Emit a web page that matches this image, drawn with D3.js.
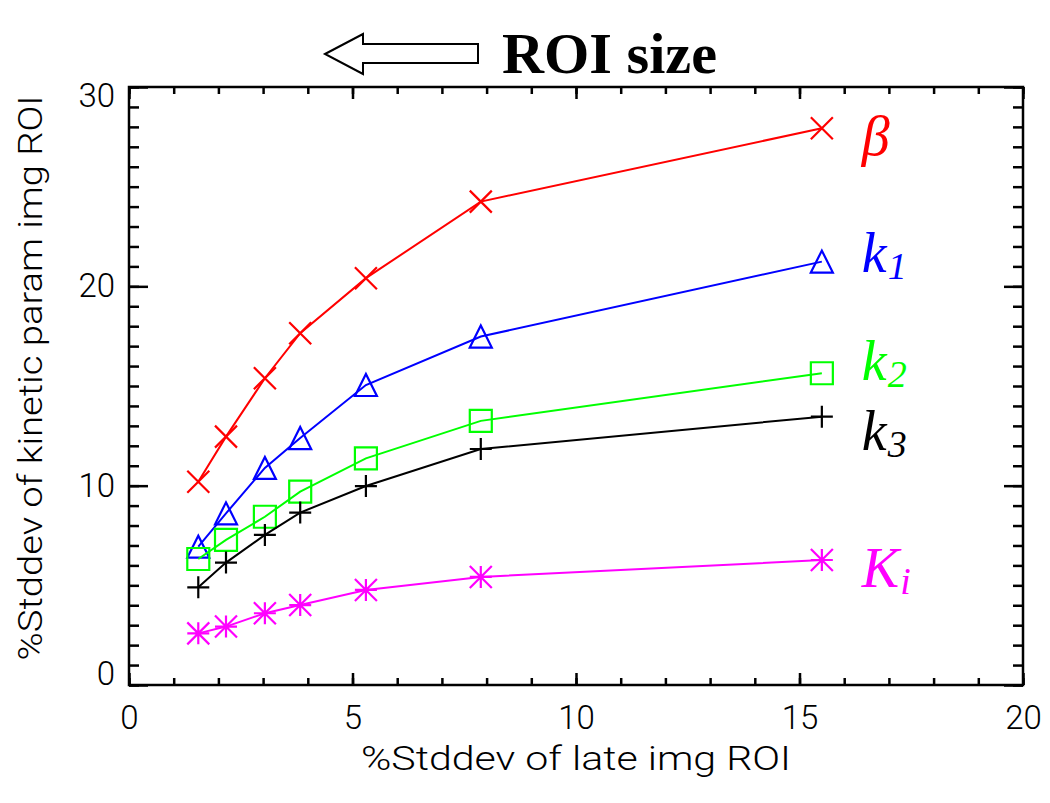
<!DOCTYPE html>
<html>
<head>
<meta charset="utf-8">
<script src="https://cdn.jsdelivr.net/npm/d3@7"></script>
<style>
  body { margin: 0; background: #fff; }
</style>
</head>
<body>
<div id="chart"></div>
<script>
// values
const xValues = [1.55, 2.17, 3.04, 3.83, 5.30, 7.87, 15.5];
const betaValues = [10.2, 12.46, 15.39, 17.65, 20.41, 24.25, 27.93];
const k1Values = [6.94, 8.61, 10.89, 12.39, 15.05, 17.48, 21.24];
const k2Values = [6.32, 7.28, 8.44, 9.70, 11.37, 13.25, 15.64];
const k3Values = [4.90, 6.14, 7.53, 8.65, 9.98, 11.84, 13.46];
const kiValues = [2.59, 2.93, 3.60, 4.01, 4.77, 5.42, 6.27];
const seriesValues = [betaValues, k1Values, k2Values, k3Values, kiValues];
const seriesLabels = [['β', ''], ['k', '1'], ['k', '2'], ['k', '3'], ['K', 'i']];
const xTicks = [0, 5, 10, 15, 20];
const yTicks = [0, 10, 20, 30];
const xMinorTicks = d3.range(0, 21, 1);
const yMinorTicks = d3.range(0, 31, 1);
const xAxisTitle = '%Stddev of late img ROI';
const yAxisTitle = '%Stddev of kinetic param img ROI';
const titleText = 'ROI size';

class Chart {
    constructor() {
        const attrs = {
            svgWidth: 1050,
            svgHeight: 803,
            marginTop: 87,
            marginLeft: 129,
            marginRight: 27,
            marginBottom: 118,
            container: '#chart',
            axisFont: 'Roboto, "DejaVu Sans", sans-serif',
            serifFont: '"Liberation Serif", "DejaVu Serif", serif',
            // per series: colour, symbol, label offset from last point
            styles: [
                { color: '#ff0000', symbol: 'x', labelDy: 27 },
                { color: '#0000ff', symbol: 'triangle', labelDy: 10 },
                { color: '#00ff00', symbol: 'square', labelDy: 7 },
                { color: '#000000', symbol: 'plus', labelDy: 33 },
                { color: '#ff00ff', symbol: 'asterisk', labelDy: 27 }
            ]
        };
        this.getState = () => attrs;
        this.setState = (d) => Object.assign(attrs, d);
        this.initializeEnterExitUpdatePattern();
    }

    render() {
        this.calculateProperties();
        this.drawSvgAndWrappers();
        this.drawAxes();
        this.drawSeries();
        this.drawTitle();
        return this;
    }

    calculateProperties() {
        const { svgWidth, svgHeight, marginTop, marginLeft, marginRight, marginBottom } = this.getState();
        const chartWidth = svgWidth - marginLeft - marginRight;
        const chartHeight = svgHeight - marginTop - marginBottom;
        const x = d3.scaleLinear().domain([0, 20]).range([0, chartWidth]);
        const y = d3.scaleLinear().domain([0, 30]).range([chartHeight, 0]);
        this.setState({ chartWidth, chartHeight, x, y });
    }

    drawSvgAndWrappers() {
        const { container, svgWidth, svgHeight, marginLeft, marginTop } = this.getState();
        const svg = d3.select(container)._add('svg.svg-container')
            .attr('width', svgWidth)
            .attr('height', svgHeight)
            .style('display', 'block')
            .style('background', '#fff');
        const chart = svg._add('g.chart')
            .attr('transform', `translate(${marginLeft},${marginTop})`);
        this.setState({ svg, chart });
    }

    drawAxes() {
        const { chart, x, y, chartWidth, chartHeight, axisFont } = this.getState();
        const majorX = 12, minorX = 7, majorY = 19, minorY = 10;

        const styleAxis = (g) => {
            g.select('.domain').remove();
            g.selectAll('.tick line').attr('stroke', '#000').attr('stroke-width', 2.5);
            g.selectAll('.tick text')
                .attr('fill', '#000')
                .style('font-family', axisFont)
                .style('font-weight', 300)
                .style('font-size', '33px');
        };

        // minor ticks on all four sides
        chart._add('g.x-minor-bottom').attr('transform', `translate(0,${chartHeight})`)
            .call(d3.axisBottom(x).tickValues(xMinorTicks).tickSize(-minorX).tickFormat(''))
            .call(styleAxis);
        chart._add('g.x-minor-top')
            .call(d3.axisTop(x).tickValues(xMinorTicks).tickSize(-minorX).tickFormat(''))
            .call(styleAxis);
        chart._add('g.y-minor-left')
            .call(d3.axisLeft(y).tickValues(yMinorTicks).tickSize(-minorY).tickFormat(''))
            .call(styleAxis);
        chart._add('g.y-minor-right').attr('transform', `translate(${chartWidth},0)`)
            .call(d3.axisRight(y).tickValues(yMinorTicks).tickSize(-minorY).tickFormat(''))
            .call(styleAxis);

        // major ticks
        chart._add('g.x-axis').attr('transform', `translate(0,${chartHeight})`)
            .call(d3.axisBottom(x).tickValues(xTicks).tickSize(-majorX).tickPadding(21).tickFormat(d3.format('d')))
            .call(styleAxis);
        chart._add('g.x-axis-top')
            .call(d3.axisTop(x).tickValues(xTicks).tickSize(-majorX).tickFormat(''))
            .call(styleAxis);
        chart._add('g.y-axis')
            .call(d3.axisLeft(y).tickValues(yTicks).tickSize(-majorY).tickPadding(14).tickFormat(d3.format('d')))
            .call(styleAxis)
            .selectAll('.tick text')
            .attr('y', d => Math.max(9, Math.min(chartHeight - 11, y(d))) - y(d));
        chart._add('g.y-axis-right').attr('transform', `translate(${chartWidth},0)`)
            .call(d3.axisRight(y).tickValues(yTicks).tickSize(-majorY).tickFormat(''))
            .call(styleAxis);

        chart._add('rect.frame')
            .attr('width', chartWidth)
            .attr('height', chartHeight)
            .attr('fill', 'none')
            .attr('stroke', '#000')
            .attr('stroke-width', 2.5);

        chart._add('text.x-title')
            .attr('x', chartWidth / 2)
            .attr('y', chartHeight + 85)
            .attr('text-anchor', 'middle')
            .attr('textLength', 430)
            .attr('lengthAdjust', 'spacingAndGlyphs')
            .style('font-family', axisFont)
            .style('font-weight', 300)
            .style('font-size', '33px')
            .text(xAxisTitle);

        chart._add('text.y-title')
            .attr('transform', `translate(-87,${chartHeight / 2 - 8}) rotate(-90)`)
            .attr('text-anchor', 'middle')
            .attr('textLength', 565)
            .attr('lengthAdjust', 'spacingAndGlyphs')
            .style('font-family', axisFont)
            .style('font-weight', 300)
            .style('font-size', '33px')
            .text(yAxisTitle);
    }

    symbolPath(type, r) {
        switch (type) {
            case 'x': return `M${-r},${-r}L${r},${r}M${-r},${r}L${r},${-r}`;
            case 'plus': return `M${-r},0H${r}M0,${-r}V${r}`;
            case 'square': return `M${-r},${-r}H${r}V${r}H${-r}Z`;
            case 'triangle': return `M${-r},${r}L0,${-r}L${r},${r}Z`;
            case 'asterisk': return `M${-r},0H${r}M0,${-r}V${r}M${-r},${-r}L${r},${r}M${-r},${r}L${r},${-r}`;
        }
        return '';
    }

    drawSeries() {
        const { chart, x, y, styles, serifFont } = this.getState();
        const data = seriesValues.map((vals, i) => ({
            id: 's' + i,
            style: styles[i],
            label: seriesLabels[i],
            points: vals.map((v, j) => ({ x: xValues[j], y: v }))
        }));

        const line = d3.line().x(d => x(d.x)).y(d => y(d.y));
        const groups = chart._add('g.series', data);

        groups._add('path.series-line', d => d)
            .attr('d', d => line(d.points))
            .attr('fill', 'none')
            .attr('stroke', d => d.style.color)
            .attr('stroke-width', 2);

        groups.each((d, i, nodes) => {
            d3.select(nodes[i]).selectAll('path.marker')
                .data(d.points)
                .join('path')
                .attr('class', 'marker')
                .attr('transform', p => `translate(${x(p.x)},${y(p.y)})`)
                .attr('d', this.symbolPath(d.style.symbol, 11))
                .attr('fill', 'none')
                .attr('stroke', d.style.color)
                .attr('stroke-width', 2.2);
        });

        // labels sit just right of the last point of each series
        const labels = groups._add('text.series-label', d => d)
            .attr('x', d => x(d.points[d.points.length - 1].x) + 40)
            .attr('y', d => y(d.points[d.points.length - 1].y) + d.style.labelDy)
            .attr('fill', d => d.style.color)
            .style('font-family', serifFont)
            .style('font-style', 'italic')
            .style('font-size', '56px');
        labels.each(function (d) {
            const t = d3.select(this);
            t.selectAll('tspan').remove();
            t.append('tspan').text(d.label[0]);
            if (d.label[1]) {
                t.append('tspan')
                    .attr('dy', 7)
                    .attr('dx', 1)
                    .style('font-size', '38px')
                    .text(d.label[1]);
            }
        });
    }

    drawTitle() {
        const { svg, serifFont } = this.getState();
        const arrow = [[325, 54], [363, 34], [363, 44], [478, 44], [478, 63], [363, 63], [363, 74]];
        svg._add('path.title-arrow')
            .attr('d', d3.line()(arrow) + 'Z')
            .attr('fill', '#fff')
            .attr('stroke', '#000')
            .attr('stroke-width', 2);
        svg._add('text.title')
            .attr('x', 502)
            .attr('y', 73)
            .attr('textLength', 215)
            .attr('lengthAdjust', 'spacingAndGlyphs')
            .style('font-family', serifFont)
            .style('font-weight', 'bold')
            .style('font-size', '56px')
            .text(titleText);
    }

    initializeEnterExitUpdatePattern() {
        d3.selection.prototype._add = function (classSelector, data) {
            const container = this;
            const split = classSelector.split('.');
            const elementTag = split[0];
            const className = split[1] || 'not-good';
            let bindData = data;
            if (typeof data === 'function') {
                bindData = d => [data(d)];
            } else if (bindData && !Array.isArray(bindData)) {
                bindData = [bindData];
            }
            if (!bindData) bindData = [className];
            let selection = container.selectAll(elementTag + '.' + className)
                .data(bindData, (d, i) => (typeof d === 'object' && d.id) ? d.id : i);
            selection.exit().remove();
            selection = selection.enter().append(elementTag).merge(selection);
            selection.attr('class', className);
            return selection;
        };
    }
}

new Chart().render();
</script>
</body>
</html>
